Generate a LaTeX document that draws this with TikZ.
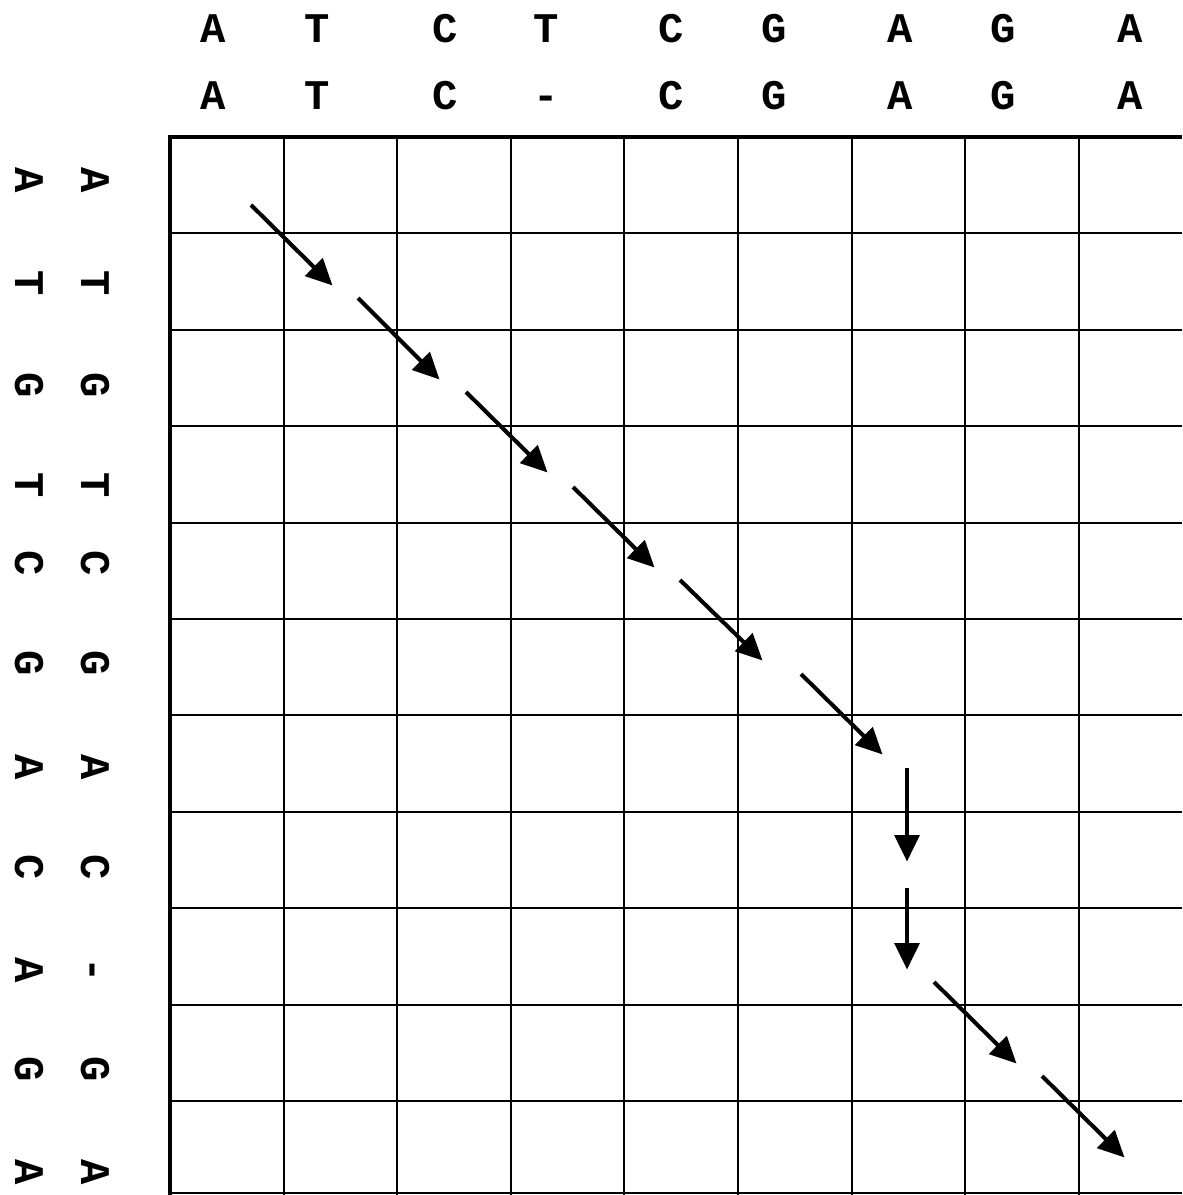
\documentclass[tikz,border=0pt]{standalone}
\usepackage{fontspec}
\setmonofont{Liberation Mono}
\usetikzlibrary{arrows.meta}

\begin{document}
\begin{tikzpicture}[x=0.01cm,y=-0.01cm,
    base/.style={font=\ttfamily\bfseries\fontsize{12}{14}\selectfont,inner sep=0pt,
        text height=7.9pt,text depth=0pt},
    side/.style={base,rotate=-90},
    cell/.style={line width=0.6pt},
    border/.style={line width=1.3pt},
    trace/.style={-{Triangle[length=7.5pt,width=7pt]},line width=1.15pt,shorten >=-1pt}]
    \useasboundingbox (0,0) rectangle (1182,1195);
    % grid
    \foreach \k in {1,...,8}
        \draw[cell] (170+113.6*\k,137) -- (170+113.6*\k,1195);
    \foreach \k in {1,...,10}
        \draw[cell] (170,137+96.4*\k) -- (1182,137+96.4*\k);
    \draw[cell] (170,1193) -- (1182,1193);
    \draw[border] (1182,137) -- (170,137) -- (170,1195);
    % top sequences
    \foreach \ch/\sh [count=\i] in {A/A,T/T,C/C,T/-,C/C,G/G,A/A,G/G,A/A}{
        \pgfmathsetmacro{\xx}{{213,317,445,546,671,774,900,1003,1130}[\i-1]}
        \node[base] (top\i) at (\xx,29) {\ch};
        \node[base] (bot\i) at (\xx,96) {\sh};
    }
    % left sequences
    \foreach \ch/\sh [count=\i] in {A/A,T/T,G/G,T/T,C/C,G/G,A/A,C/C,A/-,G/G,A/A}{
        \pgfmathsetmacro{\yy}{{180,283,385,485,563,663,767,867,970,1069,1172}[\i-1]}
        \node[side] (outer\i) at (29,\yy) {\ch};
        \node[side] (inner\i) at (95,\yy) {\sh};
    }
    % alignment path
    \coordinate (s1) at (251,205);   \coordinate (e1) at (330,283);
    \coordinate (s2) at (358,298);   \coordinate (e2) at (437,377);
    \coordinate (s3) at (466,392);   \coordinate (e3) at (545,470);
    \coordinate (s4) at (573,487);   \coordinate (e4) at (652,565);
    \coordinate (s5) at (680,580);   \coordinate (e5) at (760,658);
    \coordinate (s6) at (801,674);   \coordinate (e6) at (880,752);
    \coordinate (s7) at (907,768);   \coordinate (e7) at (907,858);
    \coordinate (s8) at (907,888);   \coordinate (e8) at (907,966);
    \coordinate (s9) at (934,982);   \coordinate (e9) at (1014,1061);
    \coordinate (s10) at (1042,1076); \coordinate (e10) at (1122,1155);
    \foreach \i in {1,...,10}
        \draw[trace] (s\i) -- (e\i);
\end{tikzpicture}
\end{document}
